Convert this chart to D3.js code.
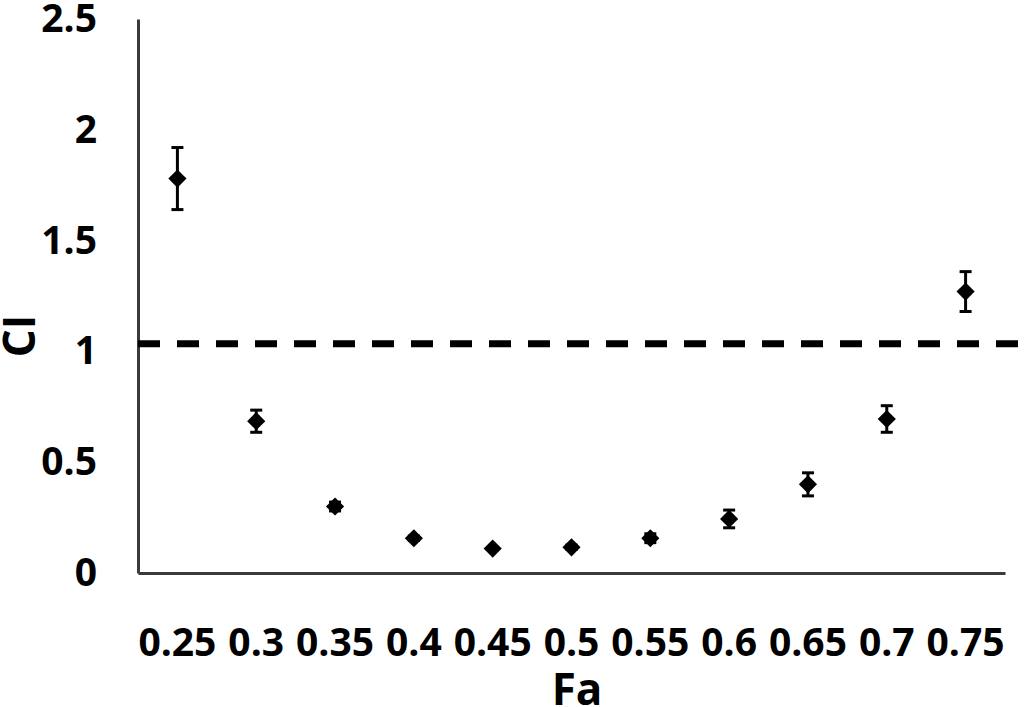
<!DOCTYPE html>
<html>
<head>
<meta charset="utf-8">
<script src="https://cdn.jsdelivr.net/npm/d3@7"></script>
<style>
  html, body { margin: 0; padding: 0; background: #fff; }
  svg { display: block; }
  text { font-family: "Open Sans", "Liberation Sans", sans-serif; font-weight: bold; fill: #000; }
</style>
</head>
<body>
<svg id="chart" width="1032" height="707"></svg>
<script>
const categories = ["0.25", "0.3", "0.35", "0.4", "0.45", "0.5", "0.55", "0.6", "0.65", "0.7", "0.75"];
const ciValues   = [1.78, 0.685, 0.30, 0.157, 0.11, 0.116, 0.157, 0.244, 0.40, 0.695, 1.27];
const ciErrors   = [0.14, 0.05, 0.02, 0.01, 0.005, 0.01, 0.02, 0.04, 0.052, 0.06, 0.09];
const yTicks     = [0, 0.5, 1, 1.5, 2, 2.5];
const yTickLabels = ["0", "0.5", "1", "1.5", "2", "2.5"];
const referenceLine = [1.035];
const xTitle = "Fa";
const yTitle = "CI";

const svg = d3.select("#chart");
const plotLeft = 138, plotRight = 1005, plotTop = 19, plotBottom = 573;

const x = d3.scaleBand().domain(categories).range([plotLeft, plotRight]).paddingInner(0).paddingOuter(0);
const y = d3.scaleLinear().domain([0, 2.5]).range([plotBottom, plotTop]);

// Y axis
const yAxis = svg.append("g")
  .attr("transform", `translate(${plotLeft},0)`)
  .call(d3.axisLeft(y).tickValues(yTicks).tickFormat((d, i) => yTickLabels[i]).tickSize(0).tickPadding(41));
yAxis.select(".domain").attr("stroke", "#3a3a3a").attr("stroke-width", 3);
yAxis.selectAll("text").style("font-size", "39px").attr("font-family", null).attr("dy", "0.32em");
yAxis.attr("font-family", null).attr("font-size", null);

// X axis
const xAxis = svg.append("g")
  .attr("transform", `translate(0,${plotBottom})`)
  .call(d3.axisBottom(x).tickSize(0).tickPadding(55));
xAxis.select(".domain").attr("stroke", "#3a3a3a").attr("stroke-width", 3);
xAxis.selectAll("text").style("font-size", "39px");
xAxis.attr("font-family", null).attr("font-size", null);

// Reference dashed line
svg.selectAll(".ref").data(referenceLine).enter().append("line")
  .attr("class", "ref")
  .attr("x1", plotLeft).attr("x2", 1032)
  .attr("y1", d => y(d)).attr("y2", d => y(d))
  .attr("stroke", "#000").attr("stroke-width", 7)
  .attr("stroke-dasharray", "22,17");

const data = categories.map((c, i) => ({ c, v: ciValues[i], e: ciErrors[i] }));
const cx = d => x(d.c) + x.bandwidth() / 2;

// Error bars
const eb = svg.append("g").attr("stroke", "#000").attr("stroke-width", 3);
eb.selectAll(".stem").data(data).enter().append("line")
  .attr("x1", cx).attr("x2", cx)
  .attr("y1", d => y(d.v - d.e)).attr("y2", d => y(d.v + d.e));
eb.selectAll(".capTop").data(data).enter().append("line")
  .attr("x1", d => cx(d) - 6).attr("x2", d => cx(d) + 6)
  .attr("y1", d => y(d.v + d.e)).attr("y2", d => y(d.v + d.e));
eb.selectAll(".capBot").data(data).enter().append("line")
  .attr("x1", d => cx(d) - 6).attr("x2", d => cx(d) + 6)
  .attr("y1", d => y(d.v - d.e)).attr("y2", d => y(d.v - d.e));

// Diamonds
svg.append("g").selectAll("path").data(data).enter().append("path")
  .attr("d", d3.symbol(d3.symbolSquare, 165))
  .attr("transform", d => `translate(${cx(d)},${y(d.v)}) rotate(45)`)
  .attr("fill", "#000");

// Axis titles
svg.append("text")
  .attr("x", 577).attr("y", 705)
  .attr("text-anchor", "middle")
  .style("font-size", "44px")
  .text(xTitle);

svg.append("text")
  .attr("transform", "translate(35,336) rotate(-90)")
  .attr("text-anchor", "middle")
  .style("font-size", "44px")
  .text(yTitle);
</script>
</body>
</html>
